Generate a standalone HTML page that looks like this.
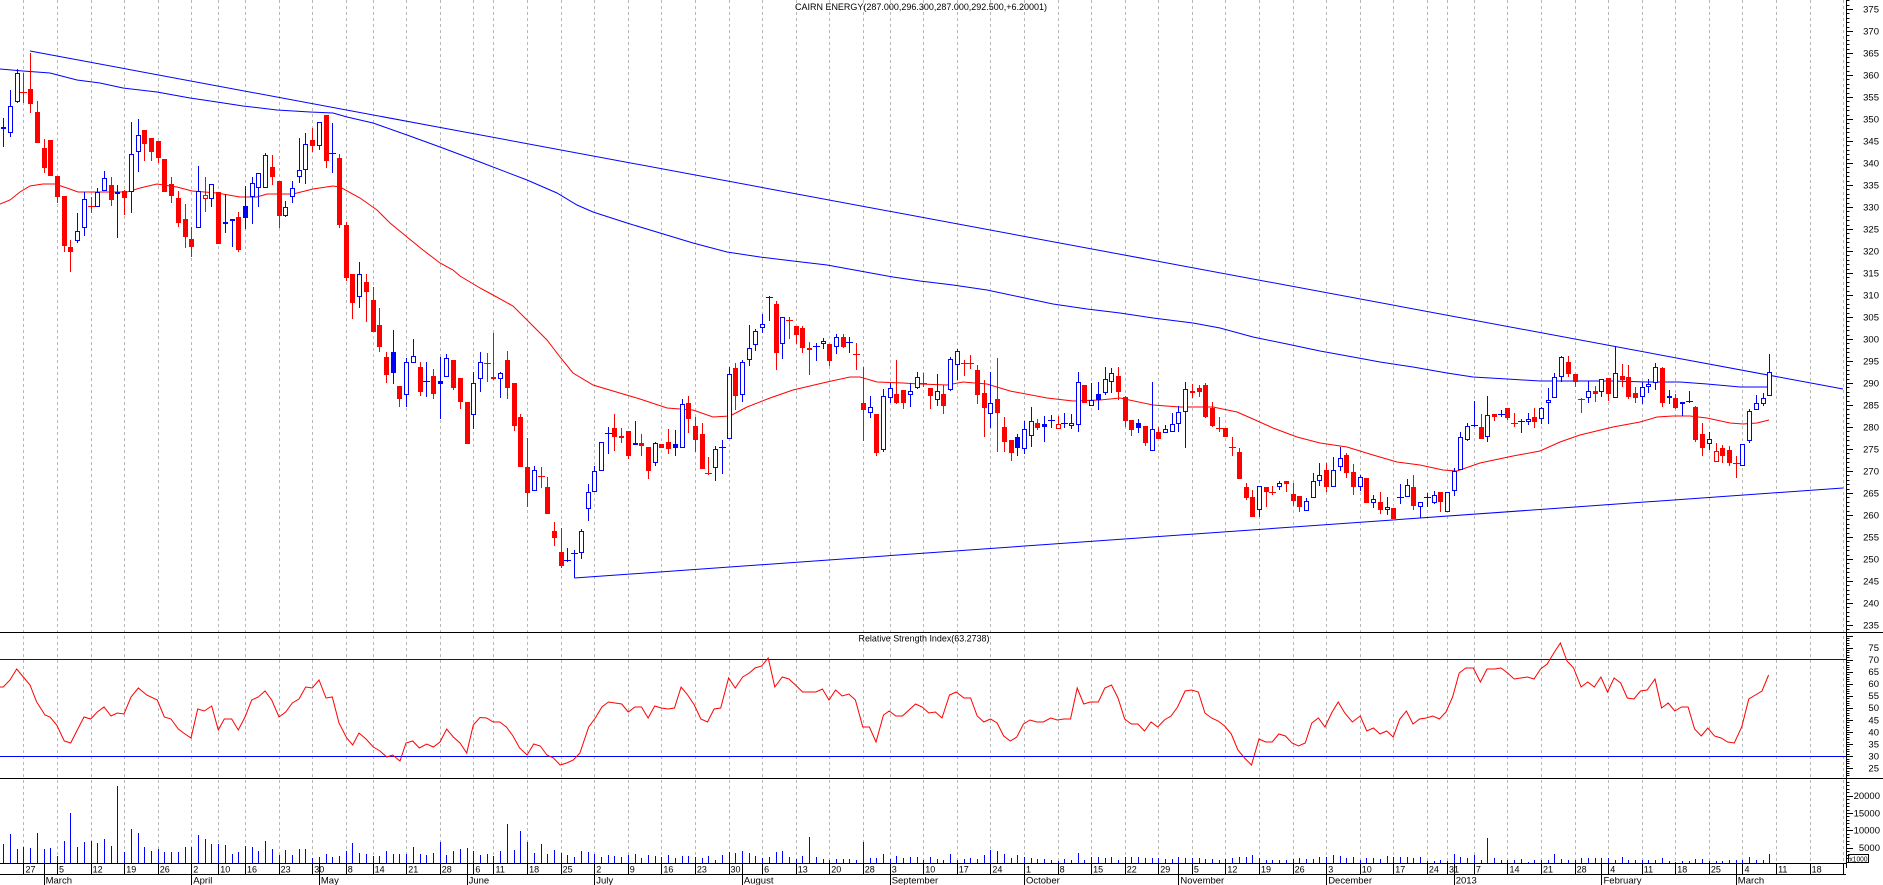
<!DOCTYPE html>
<html><head><meta charset="utf-8">
<style>
html,body{margin:0;padding:0;background:#fff;width:1883px;height:885px;overflow:hidden;}
svg{display:block;}
text{font-family:"Liberation Sans",Arial,sans-serif;fill:#000;}
.d{font-size:9px;}
.m{font-size:9.5px;}
.r{font-size:9.5px;text-anchor:end;}
</style></head><body>
<svg id="c" width="1883" height="885" viewBox="0 0 1883 885" xmlns="http://www.w3.org/2000/svg">
<g id="grid"></g>
<g id="series"></g>
<g id="axes" stroke="#000" stroke-width="1" shape-rendering="crispEdges">
<line x1="0" y1="632.5" x2="1883" y2="632.5"/>
<line x1="0" y1="778.5" x2="1883" y2="778.5"/>
<line x1="0" y1="863.5" x2="1846" y2="863.5"/>
<line x1="0" y1="874.5" x2="1846" y2="874.5"/>
<line x1="1846.5" y1="0" x2="1846.5" y2="868"/>
<rect x="1848.5" y="854.5" width="20" height="8" fill="#fff"/>
</g>
<g id="ticks" stroke="#000" stroke-width="1" shape-rendering="crispEdges"></g>
<g id="labels">
<text x="795" y="10" font-size="9.5" textLength="252" lengthAdjust="spacingAndGlyphs">CAIRN ENERGY(287.000,296.300,287.000,292.500,+6.20001)</text>
<text x="858.5" y="641.5" font-size="9.5" textLength="131" lengthAdjust="spacingAndGlyphs">Relative Strength Index(63.2738)</text>

<text class="r" x="1879" y="12.3">375</text>
<text class="r" x="1879" y="34.3">370</text>
<text class="r" x="1879" y="56.3">365</text>
<text class="r" x="1879" y="78.3">360</text>
<text class="r" x="1879" y="100.3">355</text>
<text class="r" x="1879" y="122.3">350</text>
<text class="r" x="1879" y="144.3">345</text>
<text class="r" x="1879" y="166.3">340</text>
<text class="r" x="1879" y="188.3">335</text>
<text class="r" x="1879" y="210.3">330</text>
<text class="r" x="1879" y="232.3">325</text>
<text class="r" x="1879" y="254.3">320</text>
<text class="r" x="1879" y="276.3">315</text>
<text class="r" x="1879" y="298.3">310</text>
<text class="r" x="1879" y="320.3">305</text>
<text class="r" x="1879" y="342.3">300</text>
<text class="r" x="1879" y="364.3">295</text>
<text class="r" x="1879" y="386.3">290</text>
<text class="r" x="1879" y="408.3">285</text>
<text class="r" x="1879" y="430.3">280</text>
<text class="r" x="1879" y="452.3">275</text>
<text class="r" x="1879" y="474.3">270</text>
<text class="r" x="1879" y="496.3">265</text>
<text class="r" x="1879" y="518.3">260</text>
<text class="r" x="1879" y="540.3">255</text>
<text class="r" x="1879" y="562.3">250</text>
<text class="r" x="1879" y="584.3">245</text>
<text class="r" x="1879" y="606.3">240</text>
<text class="r" x="1879" y="628.3">235</text>

<text class="r" x="1879" y="651">75</text>
<text class="r" x="1879" y="663">70</text>
<text class="r" x="1879" y="675">65</text>
<text class="r" x="1879" y="687.1">60</text>
<text class="r" x="1879" y="699.2">55</text>
<text class="r" x="1879" y="711.2">50</text>
<text class="r" x="1879" y="723.3">45</text>
<text class="r" x="1879" y="735.3">40</text>
<text class="r" x="1879" y="747.4">35</text>
<text class="r" x="1879" y="759.4">30</text>
<text class="r" x="1879" y="771.5">25</text>

<text class="r" x="1880" y="799">20000</text>
<text class="r" x="1880" y="816.3">15000</text>
<text class="r" x="1880" y="833.6">10000</text>
<text class="r" x="1880" y="851">5000</text>
<text x="1849.5" y="861.5" font-size="7.5" textLength="18" lengthAdjust="spacingAndGlyphs">x1000</text>

<text class="d" x="25.5" y="872.5">27</text>
<text class="d" x="59" y="872.5">5</text>
<text class="d" x="92.6" y="872.5">12</text>
<text class="d" x="126.2" y="872.5">19</text>
<text class="d" x="159.7" y="872.5">26</text>
<text class="d" x="193.3" y="872.5">2</text>
<text class="d" x="220.2" y="872.5">10</text>
<text class="d" x="247" y="872.5">16</text>
<text class="d" x="280.6" y="872.5">23</text>
<text class="d" x="314.2" y="872.5">30</text>
<text class="d" x="347.8" y="872.5">8</text>
<text class="d" x="374.6" y="872.5">14</text>
<text class="d" x="408.2" y="872.5">21</text>
<text class="d" x="441.8" y="872.5">28</text>
<text class="d" x="475.4" y="872.5">6</text>
<text class="d" x="495.5" y="872.5">11</text>
<text class="d" x="529.1" y="872.5">18</text>
<text class="d" x="562.6" y="872.5">25</text>
<text class="d" x="596.2" y="872.5">2</text>
<text class="d" x="629.8" y="872.5">9</text>
<text class="d" x="663.4" y="872.5">16</text>
<text class="d" x="696.9" y="872.5">23</text>
<text class="d" x="730.5" y="872.5">30</text>
<text class="d" x="764.1" y="872.5">6</text>
<text class="d" x="797.7" y="872.5">13</text>
<text class="d" x="831.2" y="872.5">20</text>
<text class="d" x="864.8" y="872.5">28</text>
<text class="d" x="891.7" y="872.5">3</text>
<text class="d" x="925.3" y="872.5">10</text>
<text class="d" x="958.8" y="872.5">17</text>
<text class="d" x="992.4" y="872.5">24</text>
<text class="d" x="1026" y="872.5">1</text>
<text class="d" x="1059.6" y="872.5">8</text>
<text class="d" x="1093.1" y="872.5">15</text>
<text class="d" x="1126.7" y="872.5">22</text>
<text class="d" x="1160.3" y="872.5">29</text>
<text class="d" x="1193.9" y="872.5">5</text>
<text class="d" x="1227.4" y="872.5">12</text>
<text class="d" x="1261" y="872.5">19</text>
<text class="d" x="1294.6" y="872.5">26</text>
<text class="d" x="1328.2" y="872.5">3</text>
<text class="d" x="1361.7" y="872.5">10</text>
<text class="d" x="1395.3" y="872.5">17</text>
<text class="d" x="1428.9" y="872.5">24</text>
<text class="d" x="1449" y="872.5">31</text>
<text class="d" x="1475.9" y="872.5">7</text>
<text class="d" x="1509.5" y="872.5">14</text>
<text class="d" x="1543" y="872.5">21</text>
<text class="d" x="1576.6" y="872.5">28</text>
<text class="d" x="1610.2" y="872.5">4</text>
<text class="d" x="1643.8" y="872.5">11</text>
<text class="d" x="1677.3" y="872.5">18</text>
<text class="d" x="1710.9" y="872.5">25</text>
<text class="d" x="1744.5" y="872.5">4</text>
<text class="d" x="1778.1" y="872.5">11</text>
<text class="d" x="1811.6" y="872.5">18</text>

<text class="m" x="45.6" y="883.5">March</text>
<text class="m" x="193.3" y="883.5">April</text>
<text class="m" x="320.9" y="883.5">May</text>
<text class="m" x="468.6" y="883.5">June</text>
<text class="m" x="596.2" y="883.5">July</text>
<text class="m" x="743.9" y="883.5">August</text>
<text class="m" x="891.7" y="883.5">September</text>
<text class="m" x="1026" y="883.5">October</text>
<text class="m" x="1180.4" y="883.5">November</text>
<text class="m" x="1328.2" y="883.5">December</text>
<text class="m" x="1455.7" y="883.5">2013</text>
<text class="m" x="1603.5" y="883.5">February</text>
<text class="m" x="1737.8" y="883.5">March</text>
</g>
</svg>
<script>
(function(){
var X=function(i){return 3.3+i*6.715;};
// grid
var gi=[3,8,13,18,23,28,32,36,41,46,51,55,60,65,70,73,78,83,88,93,98,103,108,113,118,123,128,132,137,142,147,152,157,162,167,172,177,182,187,192,197,202,207,212,215,219,224,229,234,239,244,249,254,259,264,269,274];
var mi=[6,28,47,69,88,110,132,152,175,197,216,238,258];
var g='';
gi.forEach(function(i){var x=Math.round(X(i))+0.5;
 g+='<line x1="'+x+'" y1="0" x2="'+x+'" y2="863" stroke="#b8b8b8" stroke-dasharray="3,3"/>';
 g+='<line x1="'+x+'" y1="863" x2="'+x+'" y2="874.5" stroke="#000"/>';});
mi.forEach(function(i){var x=Math.round(X(i))+0.5;
 g+='<line x1="'+x+'" y1="864" x2="'+x+'" y2="885" stroke="#000"/>';});
document.getElementById('grid').innerHTML=g;

// ticks
var t='';
for(var p=231;p<=377;p++){var y=9+(375-p)*4.4; if(y<0||y>631)continue; y=Math.round(y)+0.5;
 t+='<line x1="1847" y1="'+y+'" x2="'+(p%5==0?1853:1849.5)+'" y2="'+y+'"/>';}
for(var r=18;r<=82;r++){var y=659.7+(70-r)*2.41; if(y<634||y>777)continue; y=Math.round(y)+0.5;
 t+='<line x1="1847" y1="'+y+'" x2="'+(r%5==0?1853:1849.5)+'" y2="'+y+'"/>';}
for(var v=1;v<=25;v++){var y=865-v*3.467; if(y<780||y>862)continue; y=Math.round(y)+0.5;
 t+='<line x1="1847" y1="'+y+'" x2="'+(v%5==0?1853:1849.5)+'" y2="'+y+'"/>';}
document.getElementById('ticks').innerHTML=t;

var C=[
[127,129,118,147,2],[106,133,90,137,0],[73,102,69,103,0],[92,92,73,103,1],[89,104,53,113,1],[112,143,101,143,1],[148,168,139,173,1],[140,176,140,176,1],[176,197,176,203,1],[196,246,196,252,1],
[247,252,240,272,1],[231,241,213,243,0],[199,228,192,236,0],[206,206,197,213,1],[192,207,188,207,0],[178,191,171,191,0],[185,200,177,206,1],[192,193,185,238,0],[191,198,190,215,1],[154,192,122,213,0],
[135,152,119,172,0],[130,144,130,161,1],[138,152,138,161,1],[141,158,141,163,1],[159,192,159,192,1],[184,196,177,203,1],[198,223,191,227,1],[219,237,204,248,1],[239,247,227,257,1],[191,228,166,228,0],
[195,199,177,212,3],[184,199,184,207,0],[192,244,192,244,1],[222,223,194,233,0],[219,221,219,247,0],[217,250,212,252,1],[206,218,186,229,2],[183,197,177,224,0],[173,188,173,207,0],[155,188,153,188,0],
[167,177,155,185,1],[181,216,181,228,1],[207,216,201,217,0],[188,197,181,203,0],[170,177,138,183,0],[144,170,133,184,0],[140,146,128,152,1],[122,146,122,150,0],[115,161,115,168,1],[153,153,123,173,0],
[158,225,154,228,1],[225,278,222,281,1],[274,303,274,319,1],[274,297,262,308,0],[282,292,274,322,1],[300,332,287,332,1],[325,347,308,352,1],[357,375,352,383,1],[352,373,330,384,2],[386,399,386,407,1],
[362,395,358,407,0],[356,363,339,363,0],[367,392,362,396,1],[381,381,362,397,0],[376,394,369,399,1],[381,384,357,419,2],[358,377,354,377,0],[360,388,360,390,1],[378,402,378,409,1],[402,444,402,444,1],
[383,415,372,429,0],[362,379,352,392,0],[363,363,353,382,1],[377,379,333,380,3],[373,379,372,398,0],[360,388,351,399,1],[383,426,383,431,1],[417,467,414,467,1],[467,493,438,507,1],[470,491,466,491,0],
[476,476,467,488,1],[487,514,477,514,1],[531,538,522,546,1],[552,566,528,568,1],[560,560,548,562,0],[553,553,550,578,0],[531,553,529,559,0],[492,509,484,521,0],[471,492,466,492,0],[442,471,442,471,0],
[433,433,427,454,0],[428,437,414,451,1],[436,438,428,443,1],[431,456,431,459,1],[443,444,421,444,0],[443,446,434,456,1],[447,471,447,479,1],[443,463,442,466,0],[444,448,444,448,1],[442,449,429,454,1],
[444,448,430,456,2],[404,448,399,448,0],[403,419,396,433,1],[426,440,417,452,1],[434,469,423,469,1],[473,473,457,475,1],[449,468,446,481,0],[447,447,440,474,0],[374,439,367,439,0],[368,396,363,410,1],
[362,395,360,402,0],[348,360,325,366,0],[331,345,329,351,0],[324,328,314,333,0],[297,297,296,321,0],[304,353,301,370,1],[317,344,317,359,0],[320,320,317,339,1],[326,335,326,344,1],[328,348,326,353,1],
[348,349,342,375,3],[346,346,343,361,0],[341,344,338,349,0],[344,361,344,366,1],[337,347,334,354,0],[337,347,334,348,1],[342,342,337,353,0],[354,354,343,370,1],[403,410,367,441,1],[407,413,396,418,0],
[414,453,414,456,1],[396,450,389,452,0],[388,398,383,403,0],[394,403,360,404,1],[390,403,390,409,1],[391,395,383,407,0],[377,388,372,389,0],[383,383,373,387,1],[388,396,388,409,1],[391,400,374,406,0],
[394,406,385,414,1],[359,390,357,391,0],[351,365,349,380,0],[363,363,360,376,1],[363,363,355,369,1],[370,395,365,404,1],[393,408,380,437,1],[403,414,372,428,0],[399,413,358,452,1],[427,442,417,452,1],
[440,453,440,461,1],[437,448,434,456,2],[429,449,421,454,0],[421,436,407,447,0],[423,428,419,430,1],[424,427,416,442,2],[420,420,415,428,0],[424,429,416,429,3],[423,423,413,428,0],[423,426,414,429,0],
[382,425,372,432,0],[385,403,385,403,1],[400,406,383,406,0],[394,400,382,410,2],[379,393,367,395,0],[373,382,368,393,0],[376,392,367,400,1],[397,421,396,427,1],[420,430,420,436,1],[423,428,419,433,2],
[426,443,426,446,1],[429,451,382,451,0],[432,439,427,439,1],[429,433,425,433,0],[424,432,413,432,0],[412,424,406,432,0],[389,412,382,448,0],[391,392,384,398,3],[388,392,385,397,1],[385,417,383,418,1],
[408,426,402,427,1],[428,428,417,432,1],[428,437,428,437,1],[447,447,437,456,1],[452,479,448,479,1],[487,498,483,500,1],[497,517,490,517,1],[486,510,486,517,0],[487,492,487,507,1],[492,492,486,495,1],
[483,487,481,490,0],[481,484,481,492,1],[494,501,483,506,1],[496,507,496,512,1],[501,511,498,511,0],[481,498,473,498,0],[475,481,463,486,0],[470,487,463,492,1],[470,487,457,487,0],[458,467,447,471,0],
[455,473,453,478,1],[472,487,464,495,1],[477,487,475,491,0],[478,503,478,503,1],[499,503,495,508,0],[502,510,492,514,1],[507,510,497,515,0],[508,519,508,519,1],[497,497,484,504,0],[485,497,479,497,0],
[487,506,475,510,1],[502,507,502,518,0],[497,497,493,507,0],[495,503,491,504,0],[492,502,492,512,1],[492,512,492,512,0],[471,491,468,496,0],[437,470,432,470,0],[426,440,423,441,0],[425,425,401,427,0],
[427,439,414,439,1],[415,437,396,442,0],[414,417,414,421,1],[414,414,410,417,0],[408,418,408,420,1],[423,423,413,427,1],[421,421,419,433,0],[419,422,413,425,0],[417,422,408,428,1],[408,419,407,424,0],
[400,403,388,424,0],[377,398,373,398,0],[357,377,356,382,0],[362,374,356,377,1],[374,382,374,387,1],[399,399,398,413,1],[391,398,381,403,0],[391,394,386,402,1],[379,392,379,397,0],[378,394,378,401,1],
[373,398,346,398,0],[376,380,364,387,1],[377,397,365,399,1],[393,398,387,403,1],[387,397,382,404,0],[384,387,379,393,0],[367,383,363,390,0],[368,403,367,407,1],[396,398,390,404,0],[398,408,394,409,1],
[402,404,402,416,0],[401,401,391,403,0],[407,440,406,442,1],[434,448,423,456,1],[439,444,432,450,0],[451,462,443,462,3],[448,456,445,463,1],[450,463,446,466,1],[463,463,456,478,1],[444,466,444,466,0],
[411,441,409,443,0],[403,410,395,410,0],[398,404,393,406,0],[372,396,354,396,0]
];
var V=[844,834,849,847,848,833,849,848,856,841,
813,847,842,841,843,839,846,786,852,829,
833,847,851,849,852,852,852,847,847,835,
839,844,844,845,854,852,846,847,851,841,
849,855,850,855,849,849,858,857,854,857,
856,851,843,853,854,856,856,851,854,854,
854,847,854,855,853,842,855,851,849,848,
851,855,854,856,851,824,850,831,842,853,
844,854,850,853,855,857,851,852,854,857,
855,856,857,855,854,858,855,856,857,855,
858,856,856,857,858,856,860,855,852,853,
851,853,856,858,857,852,851,857,859,856,
837,857,859,860,859,859,859,860,842,858,
858,854,859,856,858,857,857,860,857,859,
860,854,860,859,858,859,855,850,851,854,
858,855,857,858,859,859,860,861,859,860,
853,860,857,857,858,857,860,857,857,857,
858,858,858,859,859,857,858,858,858,859,
859,860,859,858,857,857,855,858,860,860,
860,860,859,858,859,859,857,857,855,856,
858,857,860,858,858,859,856,857,857,857,
858,857,861,861,860,861,854,857,858,855,
860,838,858,860,860,860,859,862,860,860,
860,854,859,860,860,858,858,858,858,858,
860,857,860,860,860,860,860,858,861,862,
861,861,859,859,861,861,861,860,860,860,
857,860,860,854];

var redMA=[[0,204],[10,200],[20,192],[30,186],[43,184],[55,184],[67,188],[78,192],[100,192],[127,192],[140,188],[157,184],[177,187],[192,191],[217,193],[240,197],[257,197],[267,194],[293,194],[313,189],[333,186],[340,187],[360,198],[377,210],[390,223],[407,237],[423,250],[440,263],[453,270],[460,276],[480,288],[493,295],[513,306],[527,320],[547,340],[560,357],[573,373],[593,385],[613,391],[640,399],[667,408],[693,410],[713,417],[730,416],[747,407],[770,398],[793,390],[827,382],[850,377],[860,377],[877,382],[903,383],[920,384],[947,385],[963,382],[987,384],[1010,391],[1047,398],[1073,401],[1100,400],[1120,398],[1153,405],[1180,407],[1213,407],[1237,412],[1253,419],[1273,428],[1297,437],[1320,443],[1347,447],[1373,455],[1397,462],[1420,465],[1443,470],[1457,471],[1480,463],[1513,456],[1540,451],[1560,442],[1580,435],[1613,427],[1640,422],[1657,417],[1673,416],[1690,416],[1707,418],[1730,423],[1743,424],[1757,423],[1769,420]];
var blueMA=[[0,69],[23,71],[50,73],[77,80],[100,83],[123,88],[157,92],[190,98],[217,102],[243,106],[277,110],[310,112],[333,113],[347,117],[373,123],[407,135],[440,147],[480,162],[527,180],[557,193],[577,205],[593,212],[627,223],[660,233],[693,243],[727,252],[760,257],[793,261],[827,265],[860,271],[893,277],[920,281],[953,285],[987,290],[1020,297],[1053,304],[1087,309],[1120,313],[1153,318],[1193,323],[1220,328],[1253,337],[1287,344],[1320,351],[1353,357],[1380,362],[1413,367],[1447,373],[1473,377],[1507,379],[1540,381],[1580,381],[1613,381],[1647,382],[1680,382],[1707,384],[1740,387],[1769,387]];
var rsi=[[0,687],[3.3,687],[10,680],[16.7,669],[23.3,677],[30,685],[36.7,702],[45,715],[50,717],[56.7,725],[64.3,741],[70.7,743],[77.3,730],[84,717],[90.7,719],[97.3,712],[104,707],[111,716],[117.3,713],[124,714],[131,697],[138.3,688],[146.7,695],[157.3,700],[164.3,717],[171,719],[178.3,729],[185,734],[191,738],[197.7,709],[204.3,711],[211.7,706],[218.3,730],[224.3,719],[231.7,719],[238.3,730],[245,717],[251.7,700],[258.3,697],[265,691],[271.7,700],[279,717],[285.7,712],[292.3,703],[299,699],[305.7,687],[312.3,688],[319,680],[326,698],[332.3,697],[339,723],[346.7,738],[352.7,745],[359,733],[366,739],[373.3,747],[380,751],[386.7,757],[392.7,755],[400,761],[406,743],[412.7,741],[419.3,748],[426.7,744],[433.3,747],[440,742],[446.7,729],[453.3,737],[460,743],[466.7,753],[473.3,725],[480,717.5],[486.6,718],[493.2,722],[499.8,722],[506.4,727],[513,736],[519.6,748],[527.1,755],[533.7,744],[540.3,746],[546.9,755],[553.5,758],[560.1,765],[566.7,763],[573.3,760],[579.9,753],[588.7,727],[595.3,718],[601.9,707],[608.5,702],[615.1,703],[621.7,704],[628.3,712],[634.9,707],[641.5,707],[648.1,718],[654.7,706],[661.3,708],[667.9,709],[674.5,708],[681.1,687],[687.7,695],[694.3,705],[700.9,719],[707.5,722],[714.1,709],[720.7,708],[728.6,678],[735.2,688],[742.7,677],[749.3,673],[755,668],[761.6,666],[768.2,658],[774.8,687],[782.3,677],[788.9,679],[795.5,685],[802.6,692],[809.2,692],[815.8,692],[822.4,689],[829,700],[835.6,690],[842.2,696],[848.8,694],[855.4,700],[862.8,727],[869.4,727],[876,742],[883.5,715],[889.2,711],[895.8,716],[902.4,716],[909,710],[915.6,704],[922.2,707],[928.8,713],[935.4,712],[942,718],[949.5,695],[956.1,692],[964,698],[970.6,698],[977.2,716],[983.8,722],[990.5,719],[997.1,723],[1003.7,736],[1010.3,741],[1016.8,737],[1023.5,724],[1030,720],[1036.6,722],[1043.3,722],[1050.7,718],[1057.3,720],[1063.9,719],[1070.5,719],[1077.2,688],[1083.7,704],[1090.3,702],[1098.3,702],[1104.9,688],[1111.5,685],[1118,698],[1124.7,719],[1131.3,724],[1137.9,724],[1144.5,731],[1151.1,722],[1157.7,727],[1164.4,720],[1171,716],[1177.6,707],[1185.1,691],[1191.7,690],[1198.3,692],[1204.9,713],[1211.5,718],[1218.1,721],[1224.7,726],[1231.3,734],[1237.9,750],[1244.5,758],[1251.5,765],[1259,739],[1265.6,742],[1272.2,742],[1278.8,734],[1285.4,736],[1292,743],[1298.6,746],[1305.2,743],[1311.8,723],[1318.4,718],[1325,727],[1331.6,713],[1338.2,702],[1344.8,713],[1352.3,722],[1360.2,716],[1366.8,731],[1373.4,728],[1380,734],[1386.6,731],[1393.2,737],[1399.8,719],[1406.4,711],[1413,724],[1419.6,719],[1426.2,718],[1432.8,716],[1439.4,719],[1446,712],[1452.6,697],[1459.2,673],[1465.8,668],[1473.3,668],[1480.4,682],[1487,669],[1494.4,669],[1501,668],[1507.6,673],[1514.2,679],[1520.8,678],[1527.4,677],[1534,679],[1540.6,669],[1547.2,664],[1553.8,653],[1560.4,643],[1567,661],[1573.6,668],[1581.1,687],[1587.7,682],[1594.3,687],[1600.9,677],[1607.5,692],[1614.1,678],[1620.7,683],[1627.3,698],[1633.9,699],[1640.5,691],[1647.1,690],[1655,679],[1661.6,708],[1668.2,703],[1674.8,711],[1681.5,707],[1688.1,707],[1694.6,729],[1701.2,736],[1707.8,728],[1714.5,736],[1721,738],[1727.7,742],[1734.3,743],[1741.7,727],[1748.8,699],[1755.4,695],[1762,691],[1768.6,675]];

function pl(a,col){return '<polyline fill="none" stroke="'+col+'" stroke-width="1" points="'+a.map(function(p){return p[0]+','+p[1];}).join(' ')+'"/>';}

var s='';
// RSI horizontal lines
s+='<line x1="0" y1="659.5" x2="1846" y2="659.5" stroke="#00f" shape-rendering="crispEdges"/>';
s+='<line x1="0" y1="756.5" x2="1846" y2="756.5" stroke="#00f" shape-rendering="crispEdges"/>';
// volume
var vb='';
V.forEach(function(v,i){var x=Math.round(X(i))+0.5; vb+='M'+x+' 863V'+v;});
s+='<path d="'+vb+'" stroke="#00f" stroke-width="1" fill="none" shape-rendering="crispEdges"/>';
// MA lines
s+=pl(redMA,'#f00');
s+=pl(blueMA,'#00f');
// trendlines
s+='<line x1="30" y1="51" x2="1843" y2="389" stroke="#00f" stroke-width="1"/>';
s+='<line x1="574.5" y1="578" x2="1843" y2="488" stroke="#00f" stroke-width="1"/>';
// candles
var cs='';
C.forEach(function(d,i){
 var t=d[0],b=d[1],h=d[2],l=d[3],k=d[4];
 var cx=Math.round(X(i));
 var col=(k==1||k==3)?'#f00':'#00f';
 cs+='<line x1="'+(cx+0.5)+'" y1="'+h+'" x2="'+(cx+0.5)+'" y2="'+l+'" stroke="'+col+'"/>';
 if(b-t<1){
  cs+='<line x1="'+(cx-3)+'" y1="'+(t+0.5)+'" x2="'+(cx+4)+'" y2="'+(t+0.5)+'" stroke="'+col+'"/>';
 }else if(k==1||k==2){
  cs+='<rect x="'+(cx-2)+'" y="'+t+'" width="5" height="'+(b-t)+'" fill="'+col+'"/>';
 }else{
  cs+='<rect x="'+(cx-1.5)+'" y="'+(t+0.5)+'" width="4" height="'+Math.max(b-t-1,1)+'" fill="#fff" stroke="'+col+'"/>';
 }
});
s+='<g shape-rendering="crispEdges">'+cs+'</g>';
// RSI line
s+=pl(rsi,'#f00');
document.getElementById('series').innerHTML=s;
})();
</script>
</body></html>
